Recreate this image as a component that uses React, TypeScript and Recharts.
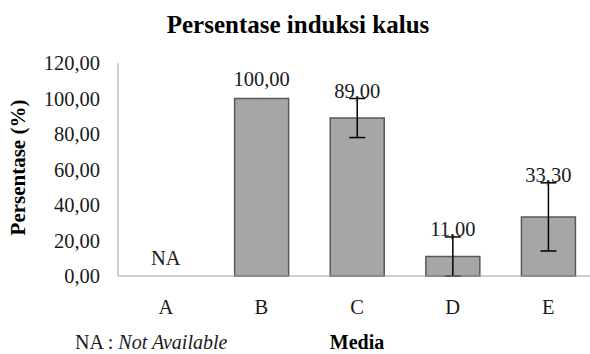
import React from 'react';
import { BarChart, Bar, XAxis, YAxis, ErrorBar, LabelList, Label, ReferenceDot } from 'recharts';

const categories = ['A', 'B', 'C', 'D', 'E'];
const values = [0, 100, 89, 11, 33.3];
const errors = [0, 0, 11, 11, 19.2];
const valueLabels = ['NA', '100,00', '89,00', '11,00', '33,30'];
const yTicks = [0, 20, 40, 60, 80, 100, 120];

const data = categories.map((name, i) => ({
  name,
  value: values[i],
  err: errors[i],
  label: valueLabels[i],
}));

const FONT = '"Liberation Serif", "Times New Roman", serif';
const FS = 20.5;

const fmt = (v: number) => v.toFixed(2).replace('.', ',');

const ValueLabel = (props: any) => {
  const { x, y, width, height, value } = props;
  const i = valueLabels.indexOf(value);
  if (i < 0 || values[i] === 0) return null;
  const cx = x + width / 2;
  let cy = y - 20;
  if (errors[i] > 0) {
    const pxPerUnit = height / values[i];
    const errTop = y - errors[i] * pxPerUnit;
    cy = Math.min(y - 20, errTop - 8);
  }
  return (
    <text x={cx} y={cy} dy="0.35em" textAnchor="middle" fontFamily={FONT} fontSize={FS} fill="#1a1a1a">
      {value}
    </text>
  );
};

const NaLabel = (props: any) => {
  const { viewBox } = props;
  return (
    <text x={viewBox.x} y={viewBox.y - 18} dy="0.35em" textAnchor="middle" fontFamily={FONT} fontSize={FS} fill="#1a1a1a">
      NA
    </text>
  );
};

const YTitle = (props: any) => {
  const { viewBox } = props;
  const cy = viewBox.y + viewBox.height / 2 - 2;
  return (
    <text
      x={18}
      y={cy}
      transform={`rotate(-90, 18, ${cy})`}
      textAnchor="middle"
      dominantBaseline="central"
      fontFamily={FONT}
      fontSize={21}
      fontWeight="bold"
      fill="#000"
    >
      Persentase (%)
    </text>
  );
};

export default function App() {
  return (
    <div style={{ position: 'absolute', left: 0, top: 0, width: 590, height: 354, background: '#fff', overflow: 'hidden' }}>
      <BarChart
        width={590}
        height={354}
        data={data}
        margin={{ top: 63, right: -6, left: 0, bottom: 0 }}
        barCategoryGap="22%"
      >
        <YAxis
          width={118}
          domain={[0, 120]}
          ticks={yTicks}
          tickFormatter={fmt}
          axisLine={{ stroke: '#a0a0a0', strokeWidth: 1 }}
          tickLine={false}
          tickMargin={12}
          tick={{ fontFamily: FONT, fontSize: FS, fill: '#1a1a1a' }}
          interval={0}
        >
          <Label content={<YTitle />} />
        </YAxis>
        <XAxis
          dataKey="name"
          height={78}
          axisLine={{ stroke: '#a0a0a0', strokeWidth: 1 }}
          tickLine={false}
          tickMargin={17}
          tick={{ fontFamily: FONT, fontSize: FS, fill: '#1a1a1a' }}
          interval={0}
        />
        <Bar dataKey="value" fill="#a6a6a6" stroke="#595959" strokeWidth={1.5} isAnimationActive={false}>
          <ErrorBar dataKey="err" width={8} stroke="#000" strokeWidth={1.5} direction="y" />
          <LabelList dataKey="label" content={<ValueLabel />} />
        </Bar>
        <ReferenceDot x={categories[0]} y={values[0]} r={0} fill="none" stroke="none" label={<NaLabel />} />
      </BarChart>
      <svg width={590} height={354} style={{ position: 'absolute', left: 0, top: 0, pointerEvents: 'none' }}>
        <text x={298} y={33} textAnchor="middle" fontFamily={FONT} fontSize={25} fontWeight="bold" fill="#000">
          Persentase induksi kalus
        </text>
        <text x={75} y={349} fontFamily={FONT} fontSize={20} fill="#1a1a1a">
          NA : <tspan fontStyle="italic">Not Available</tspan>
        </text>
        <text x={357} y={349} textAnchor="middle" fontFamily={FONT} fontSize={20} fontWeight="bold" fill="#000">
          Media
        </text>
      </svg>
    </div>
  );
}
